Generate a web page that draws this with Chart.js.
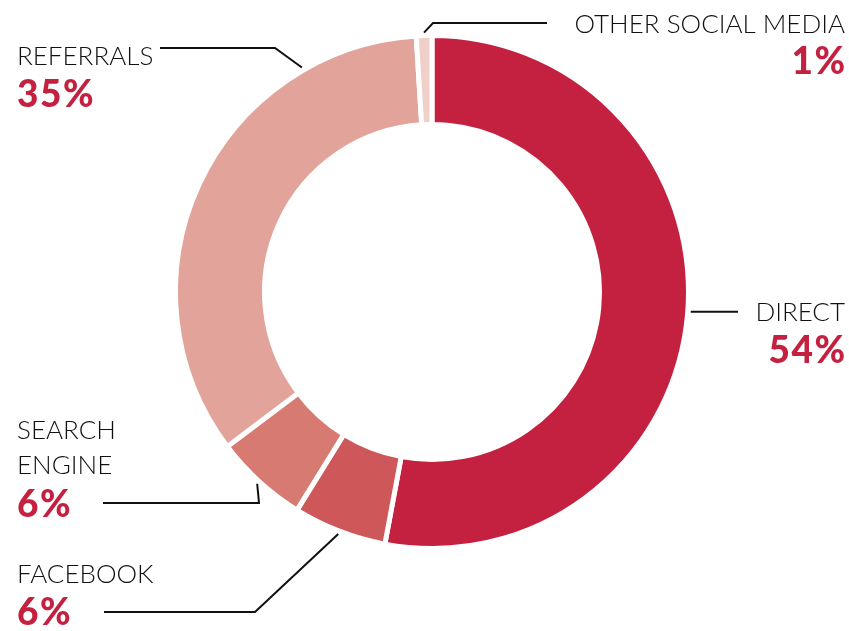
<!DOCTYPE html>
<html>
<head>
<meta charset="utf-8">
<script src="https://cdn.jsdelivr.net/npm/chart.js@4/dist/chart.umd.min.js"></script>
<style>
  html, body { margin: 0; padding: 0; background: #fff; }
</style>
</head>
<body>
<canvas id="trafficChart" width="849" height="631"></canvas>
<script>
// Traffic sources (multi-line names are split into arrays)
const sources = [['DIRECT'], ['FACEBOOK'], ['SEARCH', 'ENGINE'], ['REFERRALS'], ['OTHER SOCIAL MEDIA']];
const shares = [54, 6, 6, 35, 1];
const sliceColors = ['#C4203F', '#CD5759', '#D77B72', '#E2A39A', '#F0CFC8'];

// Where each callout sits and how its leader line runs
const callouts = [
  { align: 'right', x: 845, nameY: [321], pctY: 363, at: 0.495, elbowX: null, lineY: null, endX: 738 },
  { align: 'left', x: 17, nameY: [583], pctY: 625, at: 0.5, elbowX: 255, lineY: 612, endX: 104 },
  { align: 'left', x: 17, nameY: [439, 474], pctY: 517, at: 0.5, elbowX: 259, lineY: 503, endX: 103 },
  { align: 'left', x: 17, nameY: [65], pctY: 107, at: 0.785, elbowX: 275, lineY: 48, endX: 160 },
  { align: 'right', x: 845, nameY: [33], pctY: 74, at: 0.5, elbowX: 433, lineY: 23, endX: 547 }
];

// Draws the leader lines and the name / percentage text outside the ring
const calloutPlugin = {
  id: 'callouts',
  afterDraw(chart) {
    const ctx = chart.ctx;
    const arcs = chart.getDatasetMeta(0).data;
    ctx.save();
    arcs.forEach((arc, i) => {
      const c = callouts[i];
      const p = arc.getProps(['x', 'y', 'startAngle', 'endAngle', 'outerRadius'], true);
      const a = p.startAngle + (p.endAngle - p.startAngle) * c.at;
      const ax = p.x + Math.cos(a) * (p.outerRadius + 3);
      const ay = p.y + Math.sin(a) * (p.outerRadius + 3);

      // leader line
      ctx.strokeStyle = '#111';
      ctx.lineWidth = 2;
      ctx.lineJoin = 'miter';
      ctx.beginPath();
      ctx.moveTo(ax, ay);
      if (c.elbowX !== null) {
        ctx.lineTo(c.elbowX, c.lineY);
        ctx.lineTo(c.endX, c.lineY);
      } else {
        ctx.lineTo(c.endX, ay);
      }
      ctx.stroke();

      // name
      ctx.textAlign = c.align;
      ctx.textBaseline = 'alphabetic';
      ctx.fillStyle = '#111';
      ctx.font = '300 26px Lato';
      ctx.letterSpacing = '0px';
      sources[i].forEach((line, j) => ctx.fillText(line, c.x, c.nameY[j]));

      // percentage (trailing letter spacing offset for right-aligned text)
      const spacing = 1.5;
      ctx.fillStyle = '#C4203F';
      ctx.font = '900 37px Lato';
      ctx.letterSpacing = spacing + 'px';
      const px = c.align === 'right' ? c.x + spacing : c.x;
      ctx.fillText(shares[i] + '%', px, c.pctY);
    });
    ctx.restore();
  }
};

const ctx = document.getElementById('trafficChart').getContext('2d');
const trafficChart = new Chart(ctx, {
  type: 'doughnut',
  data: {
    labels: sources,
    datasets: [{
      data: shares,
      backgroundColor: sliceColors,
      borderColor: '#fff',
      borderWidth: 5,
      hoverBorderWidth: 5,
      hoverOffset: 0
    }]
  },
  options: {
    responsive: false,
    animation: false,
    events: [],
    cutout: '65.3%',
    layout: { padding: { left: 173, right: 158, top: 33, bottom: 80 } },
    plugins: {
      legend: { display: false },
      tooltip: { enabled: false }
    }
  },
  plugins: [calloutPlugin]
});
</script>
</body>
</html>
